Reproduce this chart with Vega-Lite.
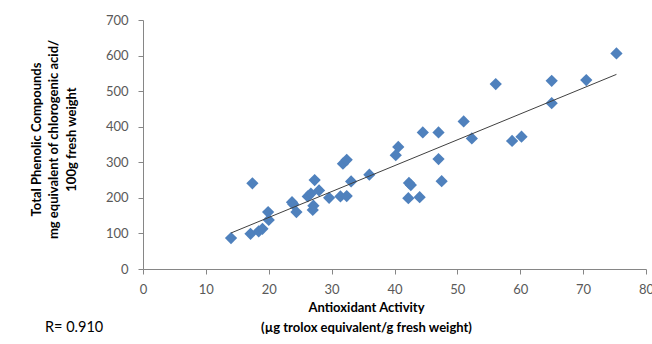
{
  "$schema": "https://vega.github.io/schema/vega-lite/v6.json",
  "width": 503,
  "height": 249,
  "autosize": "none",
  "padding": {"left": 143, "top": 20, "right": 6, "bottom": 75},
  "background": "white",
  "config": {"view": {"stroke": null}, "font": "Lato"},
  "title": {"text": "R= 0.910", "orient": "bottom", "anchor": "start", "frame": "group", "dx": -98, "offset": -13, "fontSize": 14.5, "fontWeight": "normal", "color": "#000000", "font": "Lato"},
  "data": {"values": [
    {"x": 14.0, "y": 87}, {"x": 17.4, "y": 241}, {"x": 17.1, "y": 99}, {"x": 18.4, "y": 106},
    {"x": 19.0, "y": 113}, {"x": 19.9, "y": 160}, {"x": 20.0, "y": 138}, {"x": 23.7, "y": 188},
    {"x": 23.9, "y": 182}, {"x": 24.4, "y": 160}, {"x": 26.2, "y": 204}, {"x": 26.7, "y": 212},
    {"x": 27.0, "y": 166}, {"x": 27.1, "y": 178}, {"x": 27.3, "y": 250}, {"x": 28.0, "y": 221},
    {"x": 29.6, "y": 200}, {"x": 31.4, "y": 204}, {"x": 32.4, "y": 205}, {"x": 31.8, "y": 296},
    {"x": 32.4, "y": 307}, {"x": 33.1, "y": 246}, {"x": 36.0, "y": 265}, {"x": 40.2, "y": 320},
    {"x": 40.6, "y": 343}, {"x": 42.3, "y": 242}, {"x": 42.6, "y": 236}, {"x": 42.2, "y": 199},
    {"x": 44.0, "y": 202}, {"x": 44.5, "y": 384}, {"x": 47.0, "y": 384}, {"x": 47.0, "y": 309},
    {"x": 47.5, "y": 247}, {"x": 51.0, "y": 415}, {"x": 52.3, "y": 367}, {"x": 56.1, "y": 520},
    {"x": 58.7, "y": 360}, {"x": 60.2, "y": 372}, {"x": 65.0, "y": 529}, {"x": 65.0, "y": 466},
    {"x": 70.5, "y": 531}, {"x": 75.3, "y": 606}
  ]},
  "encoding": {
    "x": {"field": "x", "type": "quantitative", "scale": {"domain": [0, 80], "nice": false},
      "axis": {"values": [0, 10, 20, 30, 40, 50, 60, 70, 80], "grid": false, "tickSize": 5, "domainColor": "#868686", "tickColor": "#868686", "labelColor": "#595959", "labelFontSize": 13, "labelPadding": 9, "labelFlush": false, "labelOverlap": false,
        "title": ["Antioxidant Activity", "(µg trolox equivalent/g fresh weight)"], "titleFontSize": 13, "titleFontWeight": "bold", "titleColor": "#000000", "titleX": 223, "titleY": 32, "titleAlign": "center", "titleBaseline": "top", "titleLineHeight": 20}},
    "y": {"field": "y", "type": "quantitative", "scale": {"domain": [0, 700], "nice": false},
      "axis": {"values": [0, 100, 200, 300, 400, 500, 600, 700], "grid": false, "tickSize": 5, "domainColor": "#868686", "tickColor": "#868686", "labelColor": "#595959", "labelFontSize": 13, "labelPadding": 10, "labelFlush": false, "labelOverlap": false,
        "title": ["Total Phenolic Compounds", "mg equivalent of chlorogenic acid/", "100g fresh weight"], "titleFontSize": 13, "titleFontWeight": "bold", "titleColor": "#000000", "titleX": -107, "titleY": 119, "titleAngle": -90, "titleAlign": "center", "titleBaseline": "middle", "titleLineHeight": 17.5}}
  },
  "layer": [
    {
      "mark": {"type": "point", "shape": "diamond", "filled": true, "size": 150, "color": "#4F81BD", "opacity": 1}
    },
    {
      "transform": [{"regression": "y", "on": "x", "extent": [14, 75.3]}],
      "mark": {"type": "line", "color": "#404040", "strokeWidth": 1}
    }
  ]
}
